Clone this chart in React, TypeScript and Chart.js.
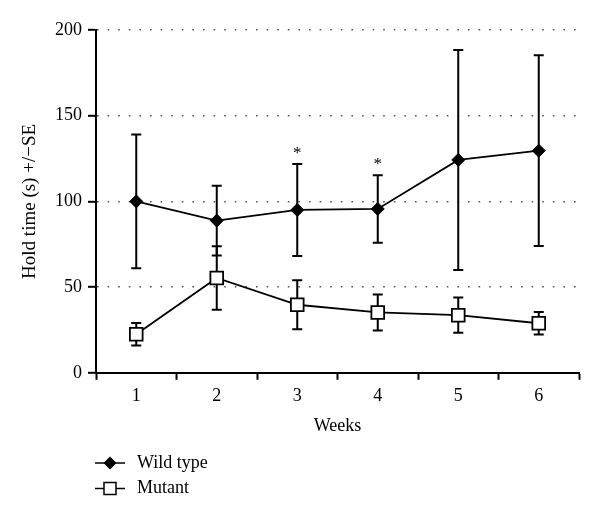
import React, { useEffect, useRef } from "react";
import { Chart, registerables } from "chart.js";

Chart.register(...registerables);

const weeks = ["1", "2", "3", "4", "5", "6"];
const wildTypeMean = [100, 88.8, 95, 95.6, 124.2, 129.6];
const wildTypeSE = [39, 20.3, 26.8, 19.7, 64.2, 55.6];
const mutantMean = [22.5, 55.3, 39.7, 35.2, 33.6, 28.9];
const mutantSE = [6.5, 18.5, 14.3, 10.5, 10.3, 6.5];
const significance = ["", "", "*", "*", "", ""];
const seriesNames = ["Wild type", "Mutant"];
const yTicks = [0, 50, 100, 150, 200];

const FONT = "'Liberation Serif', 'Times New Roman', serif";

const errorBarPlugin = {
  id: "errorBars",
  beforeDatasetsDraw(chart: any) {
    const { ctx } = chart;
    const y = chart.scales.y;
    const seList = [wildTypeSE, mutantSE];
    ctx.save();
    ctx.strokeStyle = "#000";
    ctx.lineWidth = 2;
    chart.data.datasets.forEach((ds: any, di: number) => {
      const meta = chart.getDatasetMeta(di);
      meta.data.forEach((pt: any, i: number) => {
        const v = ds.data[i];
        const se = seList[di][i];
        const top = y.getPixelForValue(v + se);
        const bot = y.getPixelForValue(v - se);
        const x = pt.x;
        ctx.beginPath();
        ctx.moveTo(x, top);
        ctx.lineTo(x, bot);
        ctx.moveTo(x - 5, top);
        ctx.lineTo(x + 5, top);
        ctx.moveTo(x - 5, bot);
        ctx.lineTo(x + 5, bot);
        ctx.stroke();
      });
    });
    ctx.restore();
  },
  afterDraw(chart: any) {
    const { ctx, chartArea } = chart;
    const y = chart.scales.y;
    const x = chart.scales.x;
    ctx.save();
    // significance marks
    ctx.fillStyle = "#000";
    ctx.font = `17px ${FONT}`;
    ctx.textAlign = "center";
    ctx.textBaseline = "middle";
    significance.forEach((s, i) => {
      if (!s) return;
      const px = x.getPixelForValue(i);
      const py = y.getPixelForValue(wildTypeMean[i] + wildTypeSE[i]);
      ctx.fillText(s, px, py - 11);
    });
    // legend
    const lx = chartArea.left - 1;
    const rows = [463, 488.5];
    ctx.font = `18px ${FONT}`;
    ctx.textAlign = "left";
    ctx.textBaseline = "middle";
    rows.forEach((ry, i) => {
      ctx.strokeStyle = "#000";
      ctx.lineWidth = 1.5;
      ctx.beginPath();
      ctx.moveTo(lx, ry);
      ctx.lineTo(lx + 30, ry);
      ctx.stroke();
      const cx = lx + 15;
      if (i === 0) {
        ctx.fillStyle = "#000";
        ctx.beginPath();
        ctx.moveTo(cx - 6.5, ry);
        ctx.lineTo(cx, ry - 6.5);
        ctx.lineTo(cx + 6.5, ry);
        ctx.lineTo(cx, ry + 6.5);
        ctx.closePath();
        ctx.fill();
      } else {
        ctx.fillStyle = "#fff";
        ctx.lineWidth = 1.5;
        ctx.fillRect(cx - 6, ry - 6, 12, 12);
        ctx.strokeRect(cx - 6, ry - 6, 12, 12);
      }
      ctx.fillStyle = "#000";
      ctx.fillText(seriesNames[i], lx + 42, ry);
    });
    ctx.restore();
  },
};

export default function App() {
  const ref = useRef<HTMLCanvasElement | null>(null);
  useEffect(() => {
    if (!ref.current) return;
    const chart = new Chart(ref.current, {
      type: "line",
      data: {
        labels: weeks,
        datasets: [
          {
            label: seriesNames[0],
            data: wildTypeMean,
            borderColor: "#000",
            borderWidth: 1.8,
            backgroundColor: "#000",
            pointStyle: "rectRot",
            pointRadius: 6.5,
            pointBorderWidth: 1,
            pointBorderColor: "#000",
            pointBackgroundColor: "#000",
            tension: 0,
          },
          {
            label: seriesNames[1],
            data: mutantMean,
            borderColor: "#000",
            borderWidth: 1.8,
            backgroundColor: "#fff",
            pointStyle: "rect",
            pointRadius: 9,
            pointBorderWidth: 1.8,
            pointBorderColor: "#000",
            pointBackgroundColor: "#fff",
            tension: 0,
          },
        ],
      },
      options: {
        responsive: false,
        animation: false,
        layout: { padding: { left: 0, right: 21, top: 30, bottom: 80 } },
        plugins: {
          legend: { display: false },
          tooltip: { enabled: false },
        },
        scales: {
          x: {
            type: "category",
            offset: true,
            grid: {
              offset: true,
              drawOnChartArea: false,
              drawTicks: true,
              tickLength: 7,
              tickColor: "#000",
              tickWidth: 2,
            },
            border: { display: true, color: "#000", width: 2 },
            ticks: {
              color: "#000",
              padding: 6,
              font: { family: FONT, size: 18 },
            },
            title: {
              display: true,
              text: "Weeks",
              color: "#000",
              font: { family: FONT, size: 18 },
              padding: { top: 2, bottom: 4 },
            },
          },
          y: {
            min: 0,
            max: 200,
            afterFit(scale: any) {
              scale.width = 96;
            },
            afterBuildTicks(scale: any) {
              scale.ticks = yTicks.map((v) => ({ value: v }));
            },
            grid: {
              color: (c: any) => (c.tick && c.tick.value === 0 ? "rgba(0,0,0,0)" : "#555"),
              lineWidth: 1.6,
              drawTicks: true,
              tickLength: 8,
              tickColor: "#000",
              tickWidth: 2,
              tickBorderDash: [],
            },
            border: { display: true, color: "#000", width: 2, dash: [1.6, 9] },
            ticks: {
              color: "#000",
              padding: 6,
              font: { family: FONT, size: 18 },
            },
            title: {
              display: true,
              text: "Hold time (s) +/\u2212SE",
              color: "#000",
              font: { family: FONT, size: 19 },
              padding: { top: 19, bottom: 0 },
            },
          },
        },
      },
      plugins: [errorBarPlugin],
    });
    return () => chart.destroy();
  }, []);
  return (
    <div style={{ position: "absolute", left: 0, top: 0, width: 600, height: 521, background: "#fff" }}>
      <canvas ref={ref} width={600} height={521} style={{ display: "block" }} />
    </div>
  );
}
